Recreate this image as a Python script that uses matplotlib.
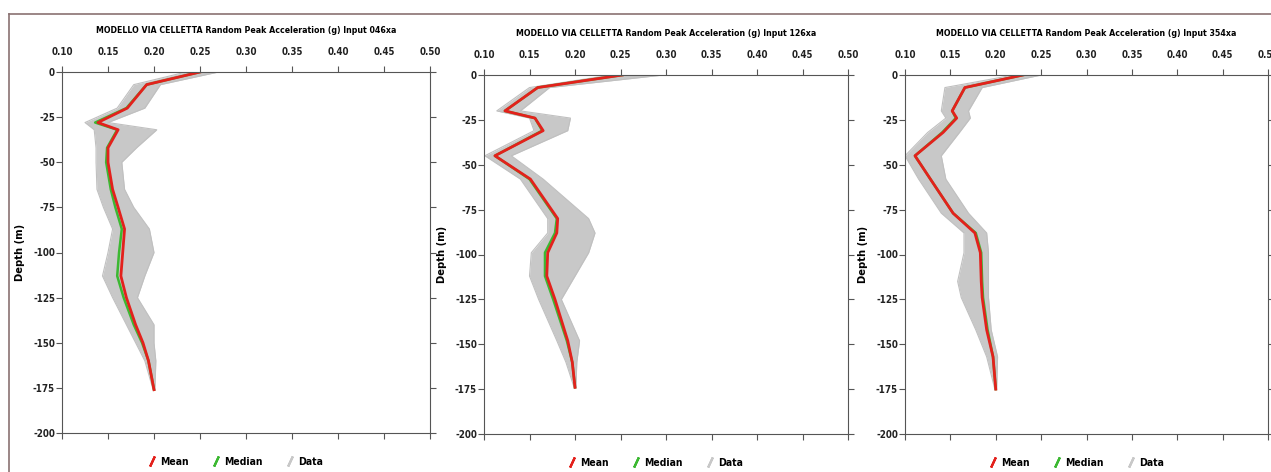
import matplotlib
matplotlib.use("Agg")
import matplotlib.pyplot as plt
from matplotlib.lines import Line2D
import numpy as np

plt.rcParams["axes.unicode_minus"] = False
plt.rcParams["font.family"] = ["DejaVu Sans"]
plt.rcParams["font.stretch"] = "condensed"

# --- data (depth in m, peak acceleration in g) ---
inputs = ["046xa", "126xa", "354xa"]

depth_046 = [0, -7, -20, -28, -32, -42, -50, -65, -75, -87, -100, -113, -125, -140, -150, -160, -176]
mean_046 = [0.250, 0.192, 0.171, 0.139, 0.161, 0.150, 0.150, 0.155, 0.161, 0.168, 0.166, 0.164, 0.170, 0.180, 0.188, 0.194, 0.200]
median_046 = [0.250, 0.192, 0.170, 0.136, 0.160, 0.149, 0.148, 0.153, 0.158, 0.165, 0.162, 0.160, 0.167, 0.178, 0.187, 0.194, 0.200]
data_lo_046 = [0.235, 0.178, 0.160, 0.125, 0.135, 0.137, 0.137, 0.138, 0.145, 0.155, 0.150, 0.144, 0.155, 0.170, 0.180, 0.190, 0.199]
data_hi_046 = [0.270, 0.207, 0.190, 0.150, 0.203, 0.181, 0.165, 0.168, 0.178, 0.195, 0.200, 0.190, 0.182, 0.200, 0.200, 0.202, 0.201]

depth_126 = [0, -7, -20, -24, -31, -45, -58, -80, -88, -99, -112, -125, -148, -160, -174]
mean_126 = [0.252, 0.159, 0.123, 0.156, 0.165, 0.112, 0.151, 0.181, 0.180, 0.170, 0.169, 0.178, 0.192, 0.197, 0.200]
median_126 = [0.252, 0.159, 0.123, 0.156, 0.164, 0.112, 0.150, 0.180, 0.178, 0.167, 0.167, 0.176, 0.191, 0.197, 0.200]
data_lo_126 = [0.240, 0.150, 0.114, 0.150, 0.155, 0.101, 0.140, 0.170, 0.170, 0.152, 0.150, 0.160, 0.180, 0.190, 0.199]
data_hi_126 = [0.297, 0.172, 0.140, 0.195, 0.192, 0.130, 0.165, 0.215, 0.222, 0.215, 0.200, 0.185, 0.205, 0.202, 0.201]

depth_354 = [0, -7, -20, -24, -32, -45, -58, -77, -88, -99, -115, -124, -142, -157, -175]
mean_354 = [0.230, 0.166, 0.152, 0.157, 0.142, 0.111, 0.128, 0.153, 0.177, 0.183, 0.184, 0.185, 0.190, 0.197, 0.200]
median_354 = [0.230, 0.166, 0.152, 0.156, 0.141, 0.111, 0.128, 0.153, 0.178, 0.184, 0.185, 0.186, 0.191, 0.197, 0.200]
data_lo_354 = [0.220, 0.144, 0.140, 0.145, 0.125, 0.100, 0.115, 0.140, 0.165, 0.165, 0.158, 0.162, 0.178, 0.190, 0.199]
data_hi_354 = [0.250, 0.185, 0.170, 0.172, 0.160, 0.140, 0.145, 0.170, 0.190, 0.192, 0.192, 0.192, 0.195, 0.202, 0.201]

x_ticks = [0.10, 0.15, 0.20, 0.25, 0.30, 0.35, 0.40, 0.45, 0.50]
y_ticks = [0, -25, -50, -75, -100, -125, -150, -175, -200]

panels = [
    (depth_046, mean_046, median_046, data_lo_046, data_hi_046),
    (depth_126, mean_126, median_126, data_lo_126, data_hi_126),
    (depth_354, mean_354, median_354, data_lo_354, data_hi_354),
]

RED = "#e3211c"
GREEN = "#3cb832"
GRAY = "#c8c8c8"
SPINE = "#555555"

fig = plt.figure(figsize=(12.71, 4.72), dpi=100)

# outer frame (top and left edges visible)
fig.add_artist(Line2D([9 / 1271, 1.0], [1 - 14 / 472, 1 - 14 / 472], color="#8a7272", lw=1.2))
fig.add_artist(Line2D([9 / 1271, 9 / 1271], [0.0, 1 - 14 / 472], color="#8a7272", lw=1.2))

axes_rects = [
    [62 / 1271, 39 / 472, 368 / 1271, 361 / 472],
    [484 / 1271, 38 / 472, 364 / 1271, 359 / 472],
    [905 / 1271, 38 / 472, 363 / 1271, 359 / 472],
]

for rect, name, (depth, mean, median, lo, hi) in zip(axes_rects, inputs, panels):
    ax = fig.add_axes(rect)

    # data band
    ax.fill_betweenx(depth, lo, hi, color=GRAY, lw=0)
    ax.plot(lo, depth, color="#c0c0c0", lw=0.8)
    ax.plot(hi, depth, color="#c0c0c0", lw=0.8)

    ax.plot(median, depth, color=GREEN, lw=1.8)
    ax.plot(mean, depth, color=RED, lw=2.0)

    ax.set_xlim(0.10, 0.50)
    ax.set_ylim(-200, 0)
    ax.set_xticks(x_ticks)
    ax.set_yticks(y_ticks)
    ax.set_xticklabels([f"{v:.2f}" for v in x_ticks], fontsize=7, fontweight="bold")
    ax.set_yticklabels([str(v) for v in y_ticks], fontsize=7, fontweight="bold")
    ax.tick_params(axis="x", top=True, bottom=True, labeltop=True, labelbottom=False,
                   direction="out", length=4, width=0.8, colors=SPINE, labelcolor="#222222", pad=7)
    ax.tick_params(axis="y", left=True, right=True, labelleft=True, labelright=False,
                   direction="out", length=4, width=0.8, colors=SPINE, labelcolor="#222222", pad=1)
    for s in ax.spines.values():
        s.set_color(SPINE)
        s.set_linewidth(0.8)

    ax.set_ylabel("Depth (m)", fontsize=8, fontweight="bold", labelpad=6)
    ax.set_title(f"MODELLO VIA CELLETTA Random Peak Acceleration (g) Input {name}",
                 fontsize=6.3, fontweight="bold", pad=28)

    handles = [
        Line2D([], [], color=RED, marker=(2, 2, -25), ls="none", markersize=8, markeredgewidth=1.6),
        Line2D([], [], color=GREEN, marker=(2, 2, -25), ls="none", markersize=8, markeredgewidth=1.6),
        Line2D([], [], color=GRAY, marker=(2, 2, -25), ls="none", markersize=8, markeredgewidth=1.6),
    ]
    ax.legend(handles, ["Mean", "Median", "Data"], loc="upper center", bbox_to_anchor=(0.47, -0.04),
              ncol=3, frameon=False, handlelength=1.0, handletextpad=0.3,
              columnspacing=2.1, prop={"size": 7.5, "weight": "bold"})

fig.savefig("out.png", dpi=100)
